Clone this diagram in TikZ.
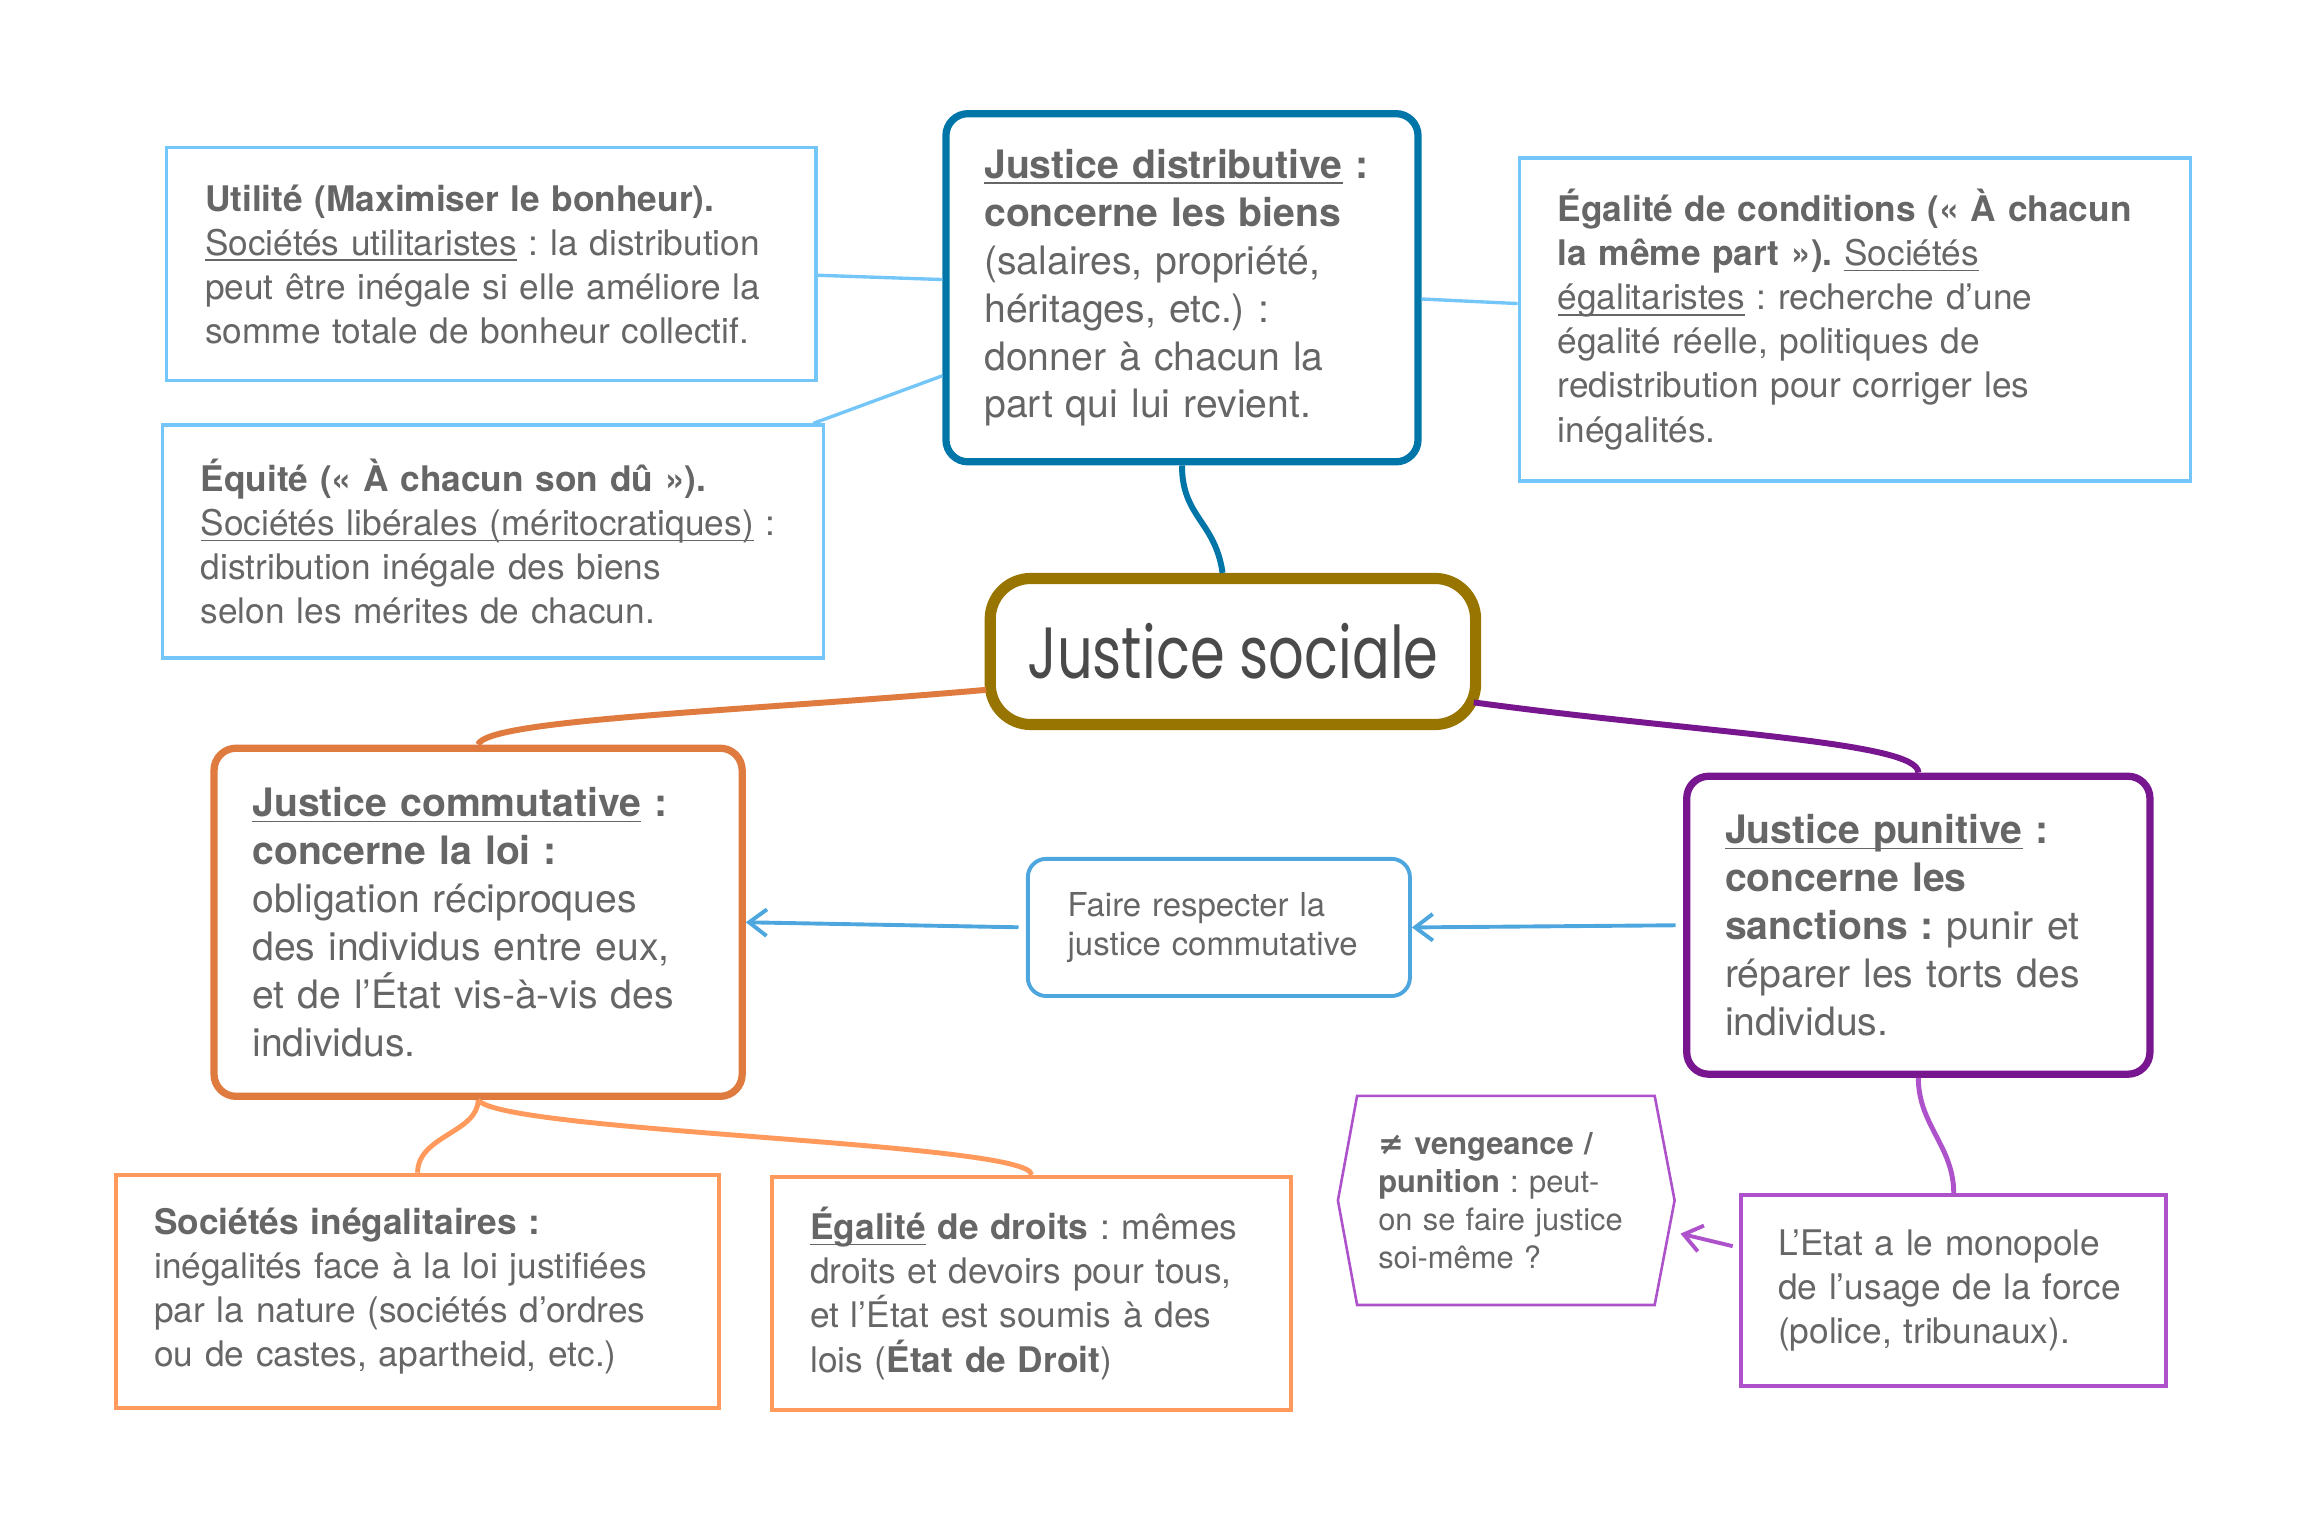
\documentclass[tikz,border=0pt]{standalone}
\usepackage{fontspec}
\setmainfont{TeX Gyre Heros}
\newfontfamily\titlefont{Poppins}
\newfontfamily\symbfont{DejaVu Sans}
\usetikzlibrary{arrows.meta, positioning, calc}
\definecolor{ctexte}{HTML}{666666}
\definecolor{ctitretxt}{HTML}{4A4A4A}
\definecolor{ctitre}{HTML}{987500}
\definecolor{cdistrib}{HTML}{0076A8}
\definecolor{cbleuclair}{HTML}{74C6F8}
\definecolor{cbleu}{HTML}{4DA6DE}
\definecolor{ccommut}{HTML}{E07B40}
\definecolor{corange}{HTML}{FF9A5C}
\definecolor{cpunit}{HTML}{78168F}
\definecolor{cviolet}{HTML}{AE52CC}
\tikzset{%
	central/.style={draw=ctitre, line width=4.3pt, rounded corners=0.55cm, fill=white,%
		minimum width=6.58cm, minimum height=1.98cm, text=ctitretxt},
	theme/.style={line width=2.8pt, rounded corners=0.3cm, fill=white, inner xsep=0.52cm,%
		align=left, text=ctexte, font=\fontsize{15.1}{18.5}\selectfont},
	leaf/.style={draw=cbleuclair, line width=1.3pt, inner xsep=0.52cm, align=left,%
		text=ctexte, font=\fontsize{13.6}{17}\selectfont},
	twigleaf/.style={leaf, draw=corange, line width=1.5pt},
	note/.style={draw=cbleu, line width=1.5pt, rounded corners=0.25cm, inner xsep=0.54cm,%
		align=left, text=ctexte, font=\fontsize{12.7}{15.3}\selectfont},
	hexa/.style={inner xsep=0.28cm, align=left, text=ctexte, font=\fontsize{11.9}{14.7}\selectfont},
	connector/.style={line width=2.3pt},
	twig/.style={line width=1.9pt},
	sel/.style={-{Straight Barb[length=2.4mm, width=3.6mm]}, line width=1.5pt}
}
\newcommand\souligne[1]{\leavevmode\setbox0\hbox{#1}\rlap{\rule[-2.2pt]{\wd0}{0.6pt}}\box0\relax}
\hyphenpenalty=10000
\frenchspacing

\begin{document}
\begin{tikzpicture}[x=0.02cm, y=-0.02cm]
	\useasboundingbox (0,0) rectangle (1560,1033);

	% centre
	\node[central] (sociale) at (835.5,441.5)
		{\titlefont\fontsize{28}{30}\selectfont\scalebox{0.77}[1]{Justice sociale}};

	% justice distributive
	\node[theme, draw=cdistrib, text width=5.36cm, minimum height=4.72cm] (distrib) at (801,195)
		{\textbf{\souligne{Justice distributive} :}\\
		\textbf{concerne les biens}\\
		(salaires, propriété,\\
		héritages, etc.) :\\
		donner à chacun la\\
		part qui lui revient.};
	\node[leaf, text width=7.76cm, minimum height=3.16cm] (utilite) at (333,179)
		{\textbf{Utilité (Maximiser le bonheur).}\\
		\souligne{Sociétés utilitaristes} : la distribution\\
		peut être inégale si elle améliore la\\
		somme totale de bonheur collectif.};
	\node[leaf, text width=7.92cm, minimum height=3.16cm] (equite) at (334,367)
		{\textbf{Équité (« À chacun son dû »).}\\
		\souligne{Sociétés libérales (méritocratiques)} :\\
		distribution inégale des biens\\
		selon les mérites de chacun.};
	\node[leaf, text width=8.06cm, minimum height=4.38cm] (egalcond) at (1257,216.5)
		{\textbf{Égalité de conditions (« À chacun}\\
		\textbf{la même part »).} \souligne{Sociétés}\\
		\souligne{égalitaristes} : recherche d'une\\
		égalité réelle, politiques de\\
		redistribution pour corriger les\\
		inégalités.};

	% justice commutative
	\node[theme, draw=ccommut, text width=6.12cm, minimum height=4.72cm] (commut) at (324,625)
		{\textbf{\souligne{Justice commutative} :}\\
		\textbf{concerne la loi :}\\
		obligation réciproques\\
		des individus entre eux,\\
		et de l’État vis-à-vis des\\
		individus.};
	\node[twigleaf, text width=7.14cm, minimum height=3.16cm] (inegal) at (283,875)
		{\textbf{Sociétés inégalitaires :}\\
		inégalités face à la loi justifiées\\
		par la nature (sociétés d'ordres\\
		ou de castes, apartheid, etc.)};
	\node[twigleaf, text width=6cm, minimum height=3.16cm] (egaldroit) at (699,876.5)
		{\textbf{\souligne{Égalité} de droits} : mêmes\\
		droits et devoirs pour tous,\\
		et l'État est soumis à des\\
		lois (\textbf{État de Droit})};
	\node[note, text width=4.1cm, minimum height=1.86cm] (faire) at (826,628.5)
		{Faire respecter la\\
		justice commutative};

	% justice punitive
	\node[theme, draw=cpunit, text width=5.24cm, minimum height=4.04cm] (punitive) at (1300,627)
		{\textbf{\souligne{Justice punitive} :}\\
		\textbf{concerne les}\\
		\textbf{sanctions :} punir et\\
		réparer les torts des\\
		individus.};
	\node[leaf, draw=cviolet, line width=1.5pt, inner xsep=0.5cm, text width=4.76cm, minimum height=2.58cm] (etat) at (1324,874.5)
		{L'Etat a le monopole\\
		de l'usage de la force\\
		(police, tribunaux).};
	\node[hexa, text width=3.46cm, minimum height=2.82cm] (veng) at (1020.5,813.5)
		{\textbf{{\symbfont≠} vengeance /}\\
		\textbf{punition} : peut-\\
		on se faire justice\\
		soi-même ?};
	\coordinate (vengtip) at ($(veng.east)+(13.5,0)$);
	\coordinate (vengback) at ($(veng.west)+(-13,0)$);
	\draw[cviolet, line width=1pt] (veng.north west) -- (veng.north east) -- (vengtip)
		-- (veng.south east) -- (veng.south west) -- (vengback) -- cycle;

	% branches
	\draw[connector, cdistrib] (distrib.south) .. controls +(0,35) and +(-5,-35) .. ($(sociale.north)+(-7,0)$);
	\draw[connector, ccommut] ($(sociale.west)+(1,26)$) .. controls +(-172,15) and +(6,-17) .. (commut.north);
	\draw[connector, cpunit] ($(sociale.east)+(-5,34.5)$) .. controls +(155,21) and +(0,-21) .. (punitive.north);

	\draw[cbleuclair, line width=1.3pt] (utilite) -- (distrib);
	\draw[cbleuclair, line width=1.3pt] (equite) -- (distrib);
	\draw[cbleuclair, line width=1.3pt] (egalcond) -- (distrib);

	\draw[twig, corange] (commut.south) .. controls +(0,22) and +(0,-25) .. (inegal.north);
	\draw[twig, corange] (commut.south) .. controls +(16,22) and +(1,-22) .. (egaldroit.north);
	\draw[twig, cviolet] (punitive.south) .. controls +(0,32) and +(0,-32) .. (etat.north);

	\draw[sel, cbleu, shorten <=0.1cm] (faire.west) -- (commut.east);
	\draw[sel, cbleu, shorten <=0.1cm] (punitive.west) -- (faire.east);
	\draw[sel, cviolet] ($(etat.west)+(-4.5,-30)$) -- ($(vengtip)+(4,22.5)$);
\end{tikzpicture}
\end{document}
